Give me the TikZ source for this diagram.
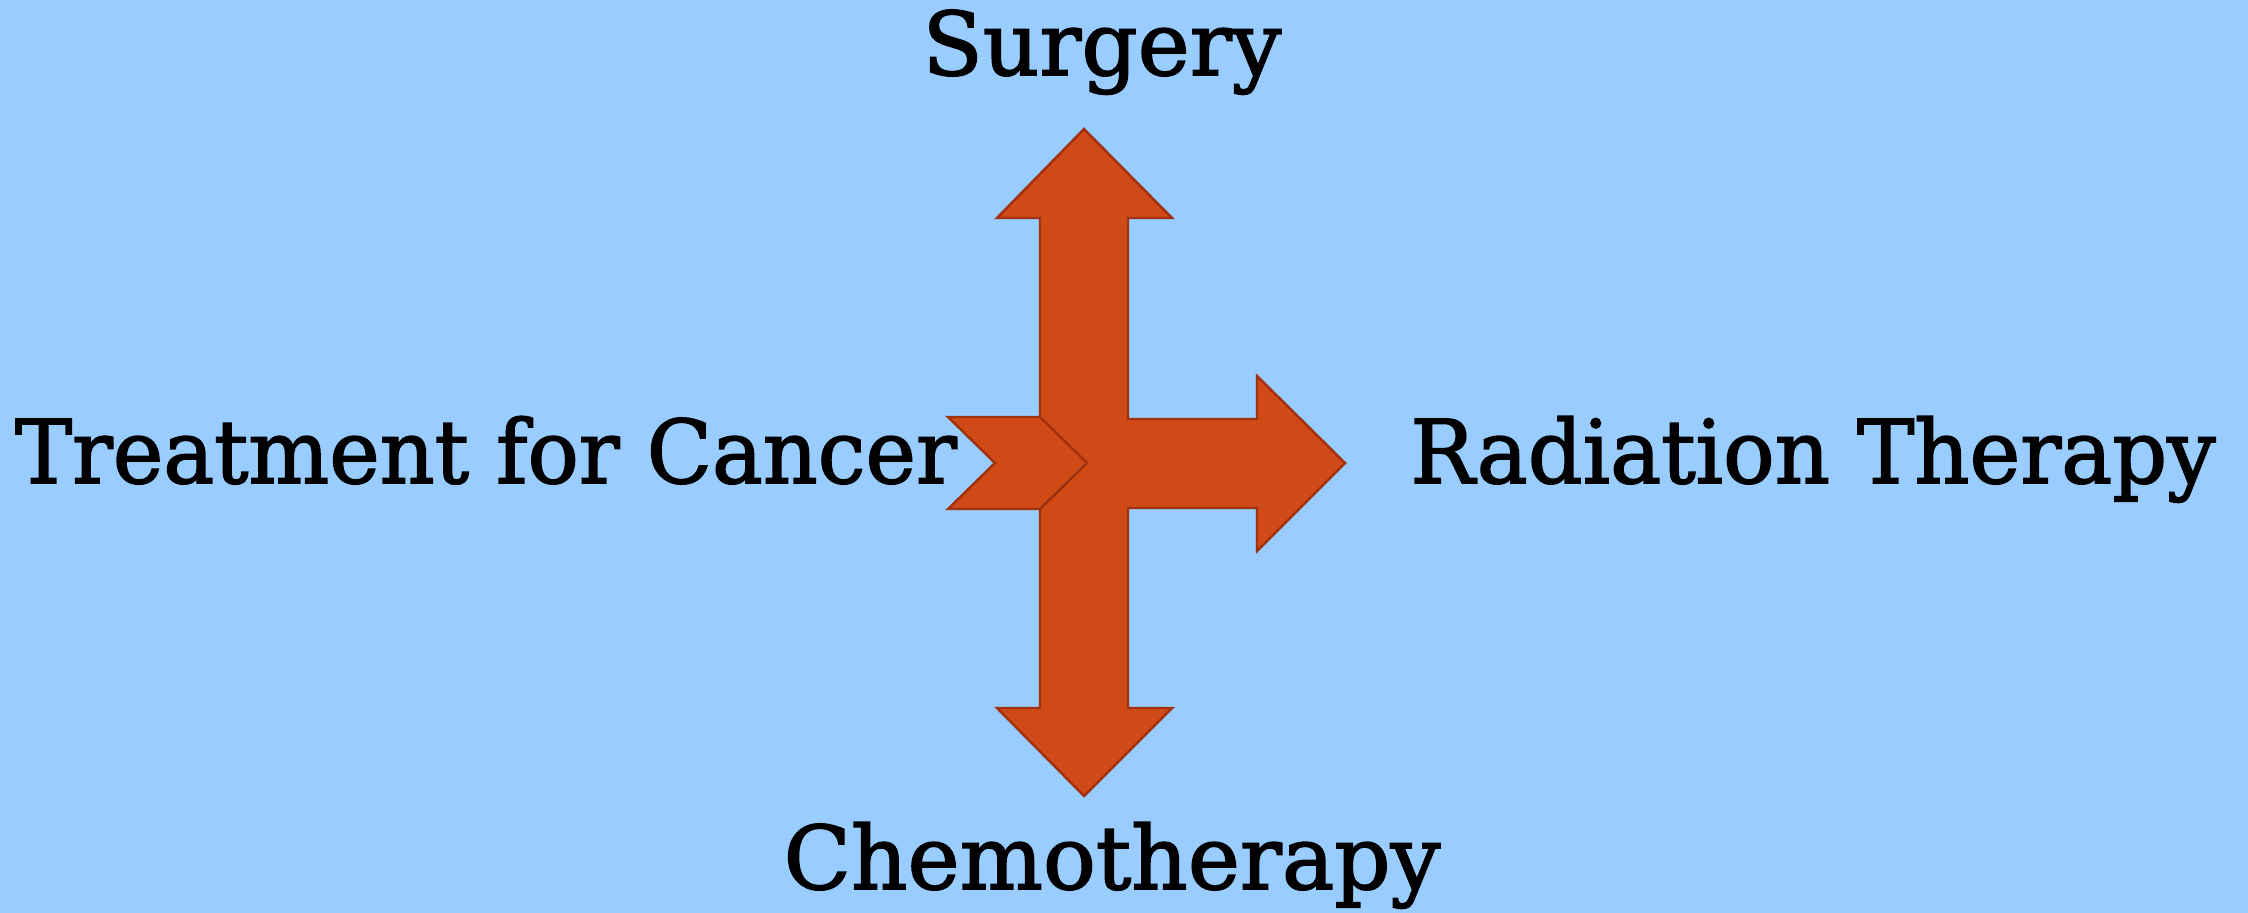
\documentclass[tikz,border=0pt]{standalone}
\usepackage{fontspec}
\setmainfont{DejaVu Serif}
\newfontfamily\labelfont{DejaVu Serif}[FakeBold=1.8]
\usepackage{xcolor}
\definecolor{skyback}{HTML}{99CCFF}
\definecolor{arrowfill}{HTML}{D04A18}
\definecolor{arrowline}{HTML}{A0320F}

\begin{document}
\begin{tikzpicture}[x=0.01cm, y=-0.01cm,
  label/.style={inner sep=0pt, anchor=base, font=\labelfont\fontsize{25}{30}\selectfont},
  cross/.style={fill=arrowfill, draw=arrowline, line width=0.7pt}]
  \fill[skyback] (0,0) rectangle (2248,913);
  \useasboundingbox (0,0) rectangle (2248,913);
  % the cross of arrows
  \draw[cross] (1084,129) -- (1172,218) -- (1128,218) -- (1128,419)
    -- (1257,419) -- (1257,376) -- (1345,463) -- (1257,551) -- (1257,508)
    -- (1128,508) -- (1128,708) -- (1172,708) -- (1084,796) -- (997,708)
    -- (1040,708) -- (1040,218) -- (997,218) -- cycle;
  \draw[cross] (948,417) -- (1040,417) -- (1087,463) -- (1040,509)
    -- (948,509) -- (995,463) -- cycle;
  % the labels
  \node[label] (surgery) at (1102,75) {Surgery};
  \node[label] (chemo) at (1112,889) {Chemotherapy};
  \node[label, xscale=0.97] (treatment) at (486,483) {Treatment for Cancer};
  \node[label, xscale=0.975] (radiation) at (1813,483) {Radiation Therapy};
\end{tikzpicture}
\end{document}
